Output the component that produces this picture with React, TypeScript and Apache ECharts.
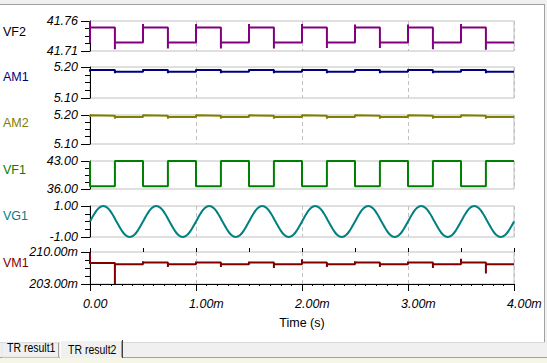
import React, { useEffect, useRef } from "react";
import * as echarts from "echarts";

// ---- data (time in ms) ----
const edgeTimes = [0, 0.235, 0.5, 0.735, 1.0, 1.235, 1.5, 1.735, 2.0, 2.235, 2.5, 2.735, 3.0, 3.235, 3.5, 3.735];
const endTime = 4.0;

const vf2Start = 41.723;
const vf2Spikes = [41.76, 41.713, 41.755, 41.714, 41.755, 41.714, 41.755, 41.714, 41.755, 41.715, 41.754, 41.715, 41.754, 41.713, 41.755, 41.712];
const vf2Levels = [41.749, 41.724, 41.749, 41.724, 41.749, 41.724, 41.749, 41.724, 41.749, 41.724, 41.749, 41.724, 41.749, 41.724, 41.749, 41.724];

const am1Start = 5.185;
const am1Spikes = [5.193, 5.18, 5.193, 5.18, 5.193, 5.18, 5.193, 5.18, 5.193, 5.18, 5.193, 5.18, 5.193, 5.18, 5.193, 5.18];
const am1Levels = [5.19, 5.185, 5.19, 5.185, 5.19, 5.185, 5.19, 5.185, 5.19, 5.185, 5.19, 5.185, 5.19, 5.185, 5.19, 5.185];

const am2Start = 5.193;
const am2Spikes = [5.199, 5.187, 5.199, 5.187, 5.199, 5.187, 5.199, 5.187, 5.199, 5.187, 5.199, 5.187, 5.199, 5.187, 5.199, 5.187];
const am2Levels = [5.197, 5.193, 5.197, 5.193, 5.197, 5.193, 5.197, 5.193, 5.197, 5.193, 5.197, 5.193, 5.197, 5.193, 5.197, 5.193];

const vf1Start = 43.0;
const vf1Spikes = [36.7, 43.0, 36.7, 43.0, 36.7, 43.0, 36.7, 43.0, 36.7, 43.0, 36.7, 43.0, 36.7, 43.0, 36.7, 43.0];
const vf1Levels = [36.7, 43.0, 36.7, 43.0, 36.7, 43.0, 36.7, 43.0, 36.7, 43.0, 36.7, 43.0, 36.7, 43.0, 36.7, 43.0];

const vm1Start = 209.8;
const vm1Spikes = [207.4, 203.0, 208.0, 206.7, 207.9, 206.7, 207.9, 206.5, 208.4, 206.7, 208.0, 206.7, 207.9, 206.5, 208.5, 205.3];
const vm1Levels = [207.6, 207.3, 207.7, 207.3, 207.7, 207.3, 207.7, 207.3, 207.7, 207.3, 207.7, 207.3, 207.7, 207.3, 207.7, 207.3];

const vg1Step = 0.5 / 12;
const vg1Values = [
  0, 0.5, 0.87, 1, 0.87, 0.5, 0, -0.5, -0.87, -1, -0.87, -0.5,
  0, 0.5, 0.87, 1, 0.87, 0.5, 0, -0.5, -0.87, -1, -0.87, -0.5,
  0, 0.5, 0.87, 1, 0.87, 0.5, 0, -0.5, -0.87, -1, -0.87, -0.5,
  0, 0.5, 0.87, 1, 0.87, 0.5, 0, -0.5, -0.87, -1, -0.87, -0.5,
  0, 0.5, 0.87, 1, 0.87, 0.5, 0, -0.5, -0.87, -1, -0.87, -0.5,
  0, 0.5, 0.87, 1, 0.87, 0.5, 0, -0.5, -0.87, -1, -0.87, -0.5,
  0, 0.5, 0.87, 1, 0.87, 0.5, 0, -0.5, -0.87, -1, -0.87, -0.5,
  0, 0.5, 0.87, 1, 0.87, 0.5, 0, -0.5, -0.87, -1, -0.87, -0.5,
  0,
];

const names = ["VF2", "AM1", "AM2", "VF1", "VG1", "VM1"];
const colors = ["#800080", "#000080", "#808000", "#008000", "#008080", "#800000"];
const nameColors = ["#000000", "#000080", "#808000", "#008000", "#008080", "#800000"];
const yRanges: [number, number][] = [
  [41.71, 41.76],
  [5.1, 5.2],
  [5.1, 5.2],
  [36.0, 43.0],
  [-1.0, 1.0],
  [203.0, 210.0],
];
const ySuffix = ["", "", "", "", "", "m"];
const xTickLabels = [0, 1, 2, 3, 4];
const tabLabels = ["TR result1", "TR result2"];

// ---- layout ----
const tops = [21, 67, 115, 161, 206, 252];
const heights = [30, 31, 29, 28, 31, 32];
const nameY = [32, 77, 123, 170, 216, 263];
const LEFT = 90;
const WIDTH = 424;
const FONT = "'Liberation Sans', Arial, sans-serif";

function stepData(start: number, spikes: number[], levels: number[]) {
  const d: number[][] = [[edgeTimes[0], start]];
  edgeTimes.forEach((t, i) => {
    if (i > 0) d.push([t, levels[i - 1]]);
    d.push([t, spikes[i]]);
    d.push([t, levels[i]]);
  });
  d.push([endTime, levels[levels.length - 1]]);
  return d;
}

export default function App() {
  const ref = useRef<HTMLDivElement>(null);
  useEffect(() => {
    if (!ref.current) return;
    const chart = echarts.init(ref.current, undefined, { renderer: "svg" });

    const seriesData = [
      stepData(vf2Start, vf2Spikes, vf2Levels),
      stepData(am1Start, am1Spikes, am1Levels),
      stepData(am2Start, am2Spikes, am2Levels),
      stepData(vf1Start, vf1Spikes, vf1Levels),
      vg1Values.map((v, i) => [i * vg1Step, v]),
      stepData(vm1Start, vm1Spikes, vm1Levels),
    ];

    const grids: any[] = tops.map((t, i) => ({
      left: LEFT,
      top: t,
      width: WIDTH,
      height: heights[i],
      show: true,
      borderColor: "#c0c0c0",
      borderWidth: 1,
      backgroundColor: "transparent",
      outerBoundsMode: "none",
    }));
    grids.push({ left: LEFT - 7, top: tops[5], width: WIDTH, height: heights[5], show: false, outerBoundsMode: "none" });

    const xAxes: any[] = tops.map((_, i) => ({
      type: "value",
      gridIndex: i,
      min: 0,
      max: 4,
      interval: 1,
      axisLine: { show: i === 5, lineStyle: { color: "#000", width: 1 } },
      axisTick: { show: i === 5, length: 7, lineStyle: { color: "#000" } },
      minorTick: { show: i === 5, splitNumber: 10, length: 2, lineStyle: { color: "#000" } },
      axisLabel: { show: false },
      splitLine: { show: true, lineStyle: { color: "#c0c0c0", type: [4, 3], width: 1 } },
      ...(i === 5
        ? {
            name: "Time (s)",
            nameLocation: "middle",
            nameGap: 32,
            nameTextStyle: { color: "#000", fontSize: 12.5, fontFamily: FONT },
          }
        : {}),
    }));
    // half-millisecond ticks
    xAxes.push({
      type: "value",
      gridIndex: 5,
      min: 0,
      max: 4,
      interval: 0.5,
      axisLine: { show: false },
      axisTick: { show: true, length: 4, lineStyle: { color: "#000" } },
      axisLabel: { show: false },
      splitLine: { show: false },
    });
    // label axis
    xAxes.push({
      type: "value",
      gridIndex: 6,
      min: 0,
      max: 4,
      interval: 1,
      axisLine: { show: false },
      axisTick: { show: false },
      splitLine: { show: false },
      axisLabel: {
        show: true,
        customValues: xTickLabels,
        align: "left",
        margin: 13,
        fontStyle: "italic",
        fontSize: 12.5,
        color: "#000",
        fontFamily: FONT,
        formatter: (v: number) => (v === 0 ? "0.00" : v.toFixed(2) + "m"),
      },
    });

    const yAxes: any[] = [];
    yRanges.forEach(([mn, mx], i) => {
      const step = (mx - mn) / 4;
      yAxes.push({
        type: "value",
        gridIndex: i,
        position: "left",
        min: mn,
        max: mx,
        axisLine: { show: true, lineStyle: { color: "#000", width: 1 } },
        axisTick: { show: true, length: 9, customValues: [mn, mx], lineStyle: { color: "#000" } },
        axisLabel: {
          show: true,
          customValues: [mn, mx],
          margin: 12,
          fontStyle: "italic",
          fontSize: 12.5,
          color: "#000",
          fontFamily: FONT,
          formatter: (v: number) => v.toFixed(2) + ySuffix[i],
        },
        splitLine: { show: false },
      });
      yAxes.push({
        type: "value",
        gridIndex: i,
        position: "left",
        min: mn,
        max: mx,
        axisLine: { show: false },
        axisTick: {
          show: true,
          length: 5,
          customValues: [mn + step, mn + 2 * step, mn + 3 * step],
          lineStyle: { color: "#000" },
        },
        axisLabel: { show: false },
        splitLine: { show: false },
      });
    });
    yAxes.push({ type: "value", gridIndex: 6, show: false, min: 0, max: 1 });

    const series: any[] = seriesData.map((d, i) => ({
      type: "line",
      name: names[i],
      xAxisIndex: i,
      yAxisIndex: 2 * i,
      data: d,
      showSymbol: false,
      smooth: i === 4 ? 0.45 : false,
      lineStyle: { color: colors[i], width: 2 },
      itemStyle: { color: colors[i] },
      z: 3,
    }));

    const graphic: any[] = [];
    names.forEach((n, i) => {
      graphic.push({
        type: "text",
        x: 3,
        y: nameY[i],
        style: { text: n, fill: nameColors[i], fontSize: 12.5, fontFamily: FONT, verticalAlign: "middle" },
      });
    });
    // window frame
    graphic.push(
      { type: "rect", shape: { x: 0, y: 0, width: 547, height: 4 }, style: { fill: "#f0f0f0" } },
      { type: "line", shape: { x1: 0, y1: 4.5, x2: 545, y2: 4.5 }, style: { stroke: "#a0a0a0", lineWidth: 1 } },
      { type: "rect", shape: { x: 545, y: 0, width: 2, height: 363 }, style: { fill: "#f0f0f0" } },
      { type: "line", shape: { x1: 544.5, y1: 4, x2: 544.5, y2: 342 }, style: { stroke: "#a0a0a0", lineWidth: 1 } },
      { type: "rect", shape: { x: 0, y: 342, width: 545, height: 16 }, style: { fill: "#f0f0f0" } },
      { type: "line", shape: { x1: 0, y1: 342.5, x2: 545, y2: 342.5 }, style: { stroke: "#d8d8d8", lineWidth: 1 } },
      { type: "rect", shape: { x: 0, y: 358, width: 547, height: 5 }, style: { fill: "#f5f6e6" } },
      { type: "line", shape: { x1: 0, y1: 357.5, x2: 547, y2: 357.5 }, style: { stroke: "#a0a0a0", lineWidth: 1 } },
      // tab 1
      { type: "rect", shape: { x: 2, y: 343, width: 57, height: 14 }, style: { fill: "#f0f0f0", stroke: "#e4e4e4", lineWidth: 1 } },
      { type: "line", shape: { x1: 58.5, y1: 343, x2: 58.5, y2: 357 }, style: { stroke: "#a0a0a0", lineWidth: 1 } },
      {
        type: "text",
        x: 7,
        y: 348,
        scaleX: 0.84,
        style: { text: tabLabels[0], fill: "#000", fontSize: 12.5, fontFamily: FONT, verticalAlign: "middle" },
      },
      // tab 2
      { type: "rect", shape: { x: 60, y: 340, width: 63, height: 18 }, style: { fill: "#f0f0f0" } },
      { type: "polyline", shape: { points: [[60.5, 358], [60.5, 340.5], [122, 340.5]] }, style: { stroke: "#ffffff", lineWidth: 1, fill: null } },
      { type: "line", shape: { x1: 122.5, y1: 340, x2: 122.5, y2: 358 }, style: { stroke: "#404040", lineWidth: 1 } },
      { type: "line", shape: { x1: 121.5, y1: 341, x2: 121.5, y2: 357 }, style: { stroke: "#a0a0a0", lineWidth: 1 } },
      {
        type: "text",
        x: 68,
        y: 350,
        scaleX: 0.84,
        style: { text: tabLabels[1], fill: "#000", fontSize: 12.5, fontFamily: FONT, verticalAlign: "middle" },
      }
    );

    chart.setOption({
      animation: false,
      backgroundColor: "#ffffff",
      textStyle: { fontFamily: FONT },
      grid: grids,
      xAxis: xAxes,
      yAxis: yAxes,
      series,
      graphic,
    });
    return () => chart.dispose();
  }, []);

  return (
    <div
      ref={ref}
      style={{ position: "fixed", left: 0, top: 0, width: 547, height: 363 }}
    />
  );
}
